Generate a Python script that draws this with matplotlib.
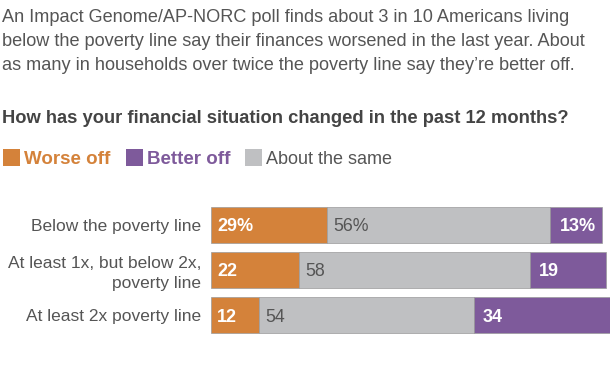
import matplotlib
matplotlib.use("Agg")
import matplotlib.pyplot as plt
from matplotlib.patches import Rectangle

plt.rcParams['font.family'] = ['Liberation Sans', 'DejaVu Sans']

groups = ["Below the poverty line",
          "At least 1x, but below 2x,\npoverty line",
          "At least 2x poverty line"]
worse = [29, 22, 12]
same = [56, 58, 54]
better = [13, 19, 34]
worse_lbl = ["29%", "22", "12"]
same_lbl = ["56%", "58", "54"]
better_lbl = ["13%", "19", "34"]

c_worse = "#D4823A"
c_better = "#7E5A9B"
c_same = "#BFC0C2"
c_text = "#555555"

W, H = 612, 374
fig = plt.figure(figsize=(W / 100, H / 100), dpi=100)

# headline, one line at a time
head = ["An Impact Genome/AP-NORC poll finds about 3 in 10 Americans living",
        "below the poverty line say their finances worsened in the last year. About",
        "as many in households over twice the poverty line say they\u2019re better off."]
for line, yy in zip(head, [16, 40, 64]):
    fig.text(2 / W, 1 - yy / H, line, ha="left", va="center_baseline", fontsize=13.1, color=c_text)

fig.text(2 / W, 1 - 117 / H, "How has your financial situation changed in the past 12 months?",
         ha="left", va="center_baseline", fontsize=13.2, color="#444444", weight="bold")

# legend
leg = [("Worse off", c_worse, c_worse, "bold", 3),
       ("Better off", c_better, c_better, "bold", 126),
       ("About the same", c_same, c_text, "normal", 245)]
for lbl, fc, tc, w, x in leg:
    fig.patches.append(Rectangle((x / W, 1 - 166 / H), 17 / W, 17 / H,
                                 transform=fig.transFigure, facecolor=fc, edgecolor="none"))
    fig.text((x + 21) / W, 1 - 158 / H, lbl, ha="left", va="center_baseline",
             fontsize=13.5 if w == "bold" else 13, color=tc, weight=w)

ax = fig.add_axes([211 / W, 1 - 340 / H, 399 / W, 140 / H])
y = [0, 1, 2]
ax.barh(y, worse, height=0.8, color=c_worse, edgecolor="#9a9a9a", linewidth=0.5)
ax.barh(y, same, left=worse, height=0.8, color=c_same, edgecolor="#9a9a9a", linewidth=0.5)
left2 = [a + b for a, b in zip(worse, same)]
ax.barh(y, better, left=left2, height=0.8, color=c_better, edgecolor="#9a9a9a", linewidth=0.5)

for i in y:
    ax.text(1.5, i, worse_lbl[i], ha="left", va="center_baseline", color="white",
            weight="bold", fontsize=13)
    ax.text(worse[i] + 1.7, i, same_lbl[i], ha="left", va="center_baseline", color=c_text,
            fontsize=12.8)
    if i == 0:
        ax.text(left2[i] + better[i] - 1.5, i, better_lbl[i], ha="right", va="center_baseline",
                color="white", weight="bold", fontsize=13)
    else:
        ax.text(left2[i] + 2.2, i, better_lbl[i], ha="left", va="center_baseline",
                color="white", weight="bold", fontsize=13)

ax.set_xlim(0, 100)
ax.set_ylim(2.55, -0.55)
ax.set_yticks(y)
ax.set_yticklabels(groups, fontsize=12.5, color=c_text, linespacing=1.35)
ax.tick_params(axis="y", length=0, pad=7)
ax.set_xticks([])
for s in ax.spines.values():
    s.set_visible(False)

fig.savefig("out.png", dpi=100, facecolor="white")
